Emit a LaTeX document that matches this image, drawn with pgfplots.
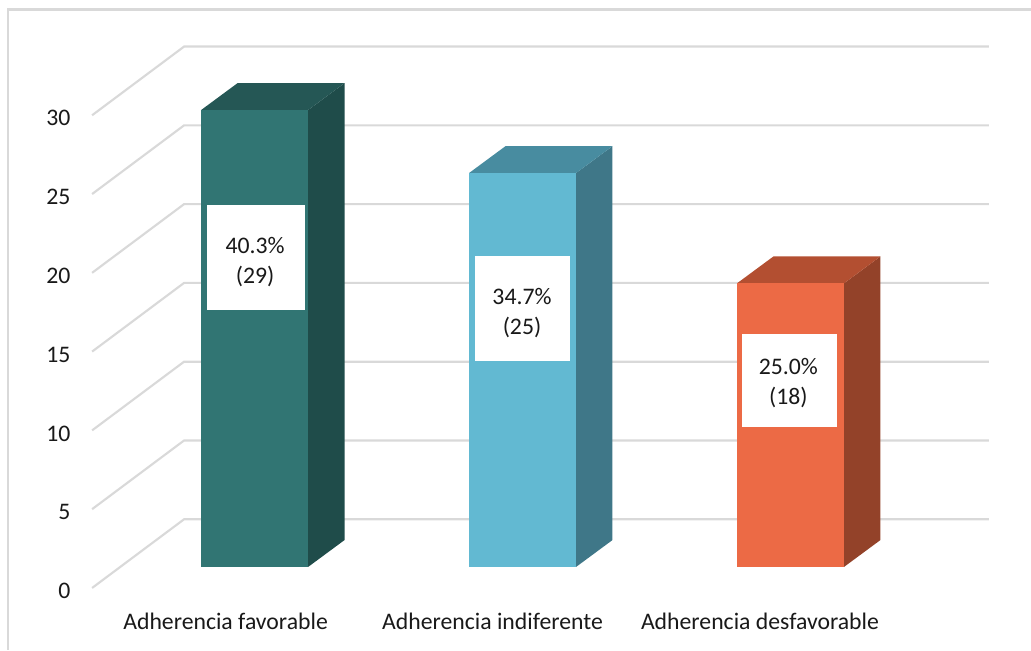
\documentclass[border=0pt]{standalone}
\usepackage{pgfplots}
\pgfplotsset{compat=1.18}
\usepackage{fontspec}
\setmainfont{Carlito}
\newcommand{\chartfont}{\fontsize{17.8}{21}\selectfont}
\definecolor{gridgray}{HTML}{D9D9D9}
\definecolor{tealfront}{HTML}{317573}
\definecolor{tealtop}{HTML}{255755}
\definecolor{tealside}{HTML}{1F4C4A}
\definecolor{bluefront}{HTML}{62B9D2}
\definecolor{bluetop}{HTML}{488CA0}
\definecolor{blueside}{HTML}{3F7788}
\definecolor{orangefront}{HTML}{EC6A45}
\definecolor{orangetop}{HTML}{B34F31}
\definecolor{orangeside}{HTML}{934229}
\tikzset{
  labelbox/.style={fill=white, inner sep=0pt},
  labeltext/.style={inner sep=0pt, align=center, font=\chartfont, text=black!90},
}
\begin{document}
\begin{tikzpicture}
\begin{axis}[
  scale only axis,
  width=773.25pt, height=487.5pt,
  xmin=0, xmax=1031,
  ymin=-5.266, ymax=35.977,
  axis line style={draw=none},
  major tick length=0pt,
  ytick={0,5,10,15,20,25,30},
  xtick={225.5,492.5,760},
  xticklabels={Adherencia favorable,Adherencia indiferente,Adherencia desfavorable},
  /pgf/number format/assume math mode=true,
  tick label style={font=\chartfont, text=black!90, inner sep=0pt},
  yticklabel style={anchor=east, xshift=53pt, yshift=-18pt},
  xticklabel style={anchor=center, yshift=21.5pt},
  no markers,
  every axis plot/.append style={line join=miter},
]
% outer frame of the chart area
\addplot[gridgray, line width=1.9pt] coordinates {(8,-5.3) (8,35.375) (1031,35.375)};

% floor-to-wall gridlines: front edge, back corner, right end
\addplot[gridgray, line width=1.6pt] coordinates {(92,-1.33) (184,3.03) (989,3.03)};
\addplot[gridgray, line width=1.6pt] coordinates {(92,3.67) (184,8.03) (989,8.03)};
\addplot[gridgray, line width=1.6pt] coordinates {(92,8.67) (184,13.03) (989,13.03)};
\addplot[gridgray, line width=1.6pt] coordinates {(92,13.67) (184,18.03) (989,18.03)};
\addplot[gridgray, line width=1.6pt] coordinates {(92,18.67) (184,23.03) (989,23.03)};
\addplot[gridgray, line width=1.6pt] coordinates {(92,23.67) (184,28.03) (989,28.03)};
\addplot[gridgray, line width=1.6pt] coordinates {(92,28.67) (184,33.03) (989,33.03)};

% Adherencia favorable: 29
\addplot[fill=tealside, draw=none] coordinates {(308,0) (344.5,1.71) (344.5,30.71) (308,29)} -- cycle;
\addplot[fill=tealtop, draw=none] coordinates {(201,29) (308,29) (344.5,30.71) (237.5,30.71)} -- cycle;
\addplot[fill=tealfront, draw=none] coordinates {(201,0) (308,0) (308,29) (201,29)} -- cycle;

% Adherencia indiferente: 25
\addplot[fill=blueside, draw=none] coordinates {(576,0) (612.5,1.71) (612.5,26.71) (576,25)} -- cycle;
\addplot[fill=bluetop, draw=none] coordinates {(469,25) (576,25) (612.5,26.71) (505.5,26.71)} -- cycle;
\addplot[fill=bluefront, draw=none] coordinates {(469,0) (576,0) (576,25) (469,25)} -- cycle;

% Adherencia desfavorable: 18
\addplot[fill=orangeside, draw=none] coordinates {(844,0) (880.5,1.71) (880.5,19.71) (844,18)} -- cycle;
\addplot[fill=orangetop, draw=none] coordinates {(737,18) (844,18) (880.5,19.71) (773.5,19.71)} -- cycle;
\addplot[fill=orangefront, draw=none] coordinates {(737,0) (844,0) (844,18) (737,18)} -- cycle;

% data labels on white boxes
\node[labelbox, minimum width=73.5pt, minimum height=78.75pt] at (axis cs:256,19.66) {};
\node[labeltext] at (axis cs:255,19.34) {40.3\%\\[1.5pt](29)};
\node[labelbox, minimum width=71.25pt, minimum height=78.75pt] at (axis cs:522.5,16.4) {};
\node[labeltext] at (axis cs:522,16.11) {34.7\%\\[1.5pt](25)};
\node[labelbox, minimum width=71.25pt, minimum height=69.75pt] at (axis cs:789.5,11.83) {};
\node[labeltext] at (axis cs:788.5,11.67) {25.0\%\\[1.5pt](18)};
\end{axis}
\end{tikzpicture}
\end{document}
